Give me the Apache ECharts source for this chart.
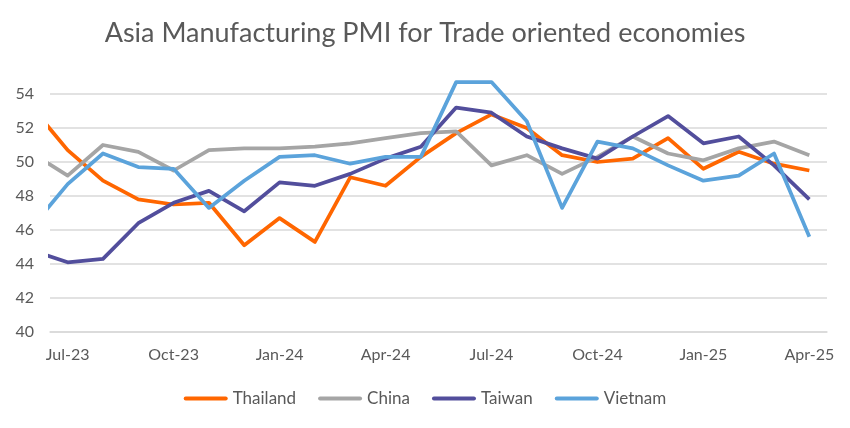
<!DOCTYPE html>
<html>
<head>
<meta charset="utf-8">
<script src="https://cdn.jsdelivr.net/npm/echarts@6/dist/echarts.min.js"></script>
<style>
  html, body { margin: 0; padding: 0; background: #fff; }
  #chart { width: 850px; height: 428px; }
</style>
</head>
<body>
<div id="chart"></div>
<script>
// first month (Jun-23) sits just left of the plot and is clipped, as in the source chart
const months = ['Jun-23', 'Jul-23', 'Aug-23', 'Sep-23', 'Oct-23', 'Nov-23', 'Dec-23',
  'Jan-24', 'Feb-24', 'Mar-24', 'Apr-24', 'May-24', 'Jun-24', 'Jul-24', 'Aug-24',
  'Sep-24', 'Oct-24', 'Nov-24', 'Dec-24', 'Jan-25', 'Feb-25', 'Mar-25', 'Apr-25'];

const thailand = [53.2, 50.7, 48.9, 47.8, 47.5, 47.6, 45.1, 46.7, 45.3, 49.1, 48.6, 50.3,
  51.7, 52.8, 52.0, 50.4, 50.0, 50.2, 51.4, 49.6, 50.6, 49.9, 49.5];
const china = [50.5, 49.2, 51.0, 50.6, 49.5, 50.7, 50.8, 50.8, 50.9, 51.1, 51.4, 51.7,
  51.8, 49.8, 50.4, 49.3, 50.3, 51.5, 50.5, 50.1, 50.8, 51.2, 50.4];
const taiwan = [44.8, 44.1, 44.3, 46.4, 47.6, 48.3, 47.1, 48.8, 48.6, 49.3, 50.2, 50.9,
  53.2, 52.9, 51.5, 50.8, 50.2, 51.5, 52.7, 51.1, 51.5, 49.8, 47.8];
const vietnam = [46.2, 48.7, 50.5, 49.7, 49.6, 47.3, 48.9, 50.3, 50.4, 49.9, 50.3, 50.3,
  54.7, 54.7, 52.4, 47.3, 51.2, 50.8, 49.8, 48.9, 49.2, 50.5, 45.6];

const shownMonths = months.slice(1);
const txt = '#595959';
const gridColor = '#D9D9D9';
const font = 'Lato';

function toPoints(values) {
  return values.map((v, i) => [i - 1, v]);
}

function makeSeries(name, values, color) {
  return {
    name: name,
    type: 'line',
    xAxisIndex: 1,
    data: toPoints(values),
    symbol: 'none',
    clip: true,
    lineStyle: { color: color, width: 3.75, join: 'round' },
    itemStyle: { color: color }
  };
}

const chart = echarts.init(document.getElementById('chart'));
chart.setOption({
  animation: false,
  title: {
    text: 'Asia Manufacturing PMI for Trade oriented economies',
    left: 'center',
    top: 15,
    textStyle: { color: txt, fontFamily: font, fontSize: 27, fontWeight: 'normal' }
  },
  legend: {
    top: 385,
    left: 'center',
    itemWidth: 44,
    itemHeight: 5,
    itemGap: 22,
    icon: 'path://M0,2 A2,2 0 0 1 2,0 L42,0 A2,2 0 0 1 42,4 L2,4 A2,2 0 0 1 0,2 Z',
    textStyle: { color: txt, fontFamily: font, fontSize: 17 },
    data: ['Thailand', 'China', 'Taiwan', 'Vietnam']
  },
  grid: { left: 50, right: 23, top: 77, bottom: 96, outerBoundsMode: 'none' },
  xAxis: [
    {
      type: 'category',
      data: shownMonths,
      boundaryGap: true,
      axisLine: { lineStyle: { color: gridColor, width: 1.5 } },
      axisTick: { interval: 2, alignWithLabel: false, length: 5, lineStyle: { color: gridColor, width: 1.5 } },
      axisLabel: { interval: 2, margin: 15, color: txt, fontFamily: font, fontSize: 16 }
    },
    {
      type: 'value',
      min: -0.5,
      max: shownMonths.length - 0.5,
      show: false
    }
  ],
  yAxis: {
    type: 'value',
    min: 40,
    max: 55,
    interval: 2,
    axisLine: { show: false },
    axisTick: { show: false },
    axisLabel: { margin: 16, color: txt, fontFamily: font, fontSize: 16, showMaxLabel: false },
    splitLine: { showMaxLine: false, lineStyle: { color: gridColor, width: 1.5 } }
  },
  series: [
    makeSeries('Thailand', thailand, '#FF6600'),
    makeSeries('China', china, '#A5A5A5'),
    makeSeries('Taiwan', taiwan, '#524E9C'),
    makeSeries('Vietnam', vietnam, '#5BA3DB')
  ]
});
</script>
</body>
</html>
